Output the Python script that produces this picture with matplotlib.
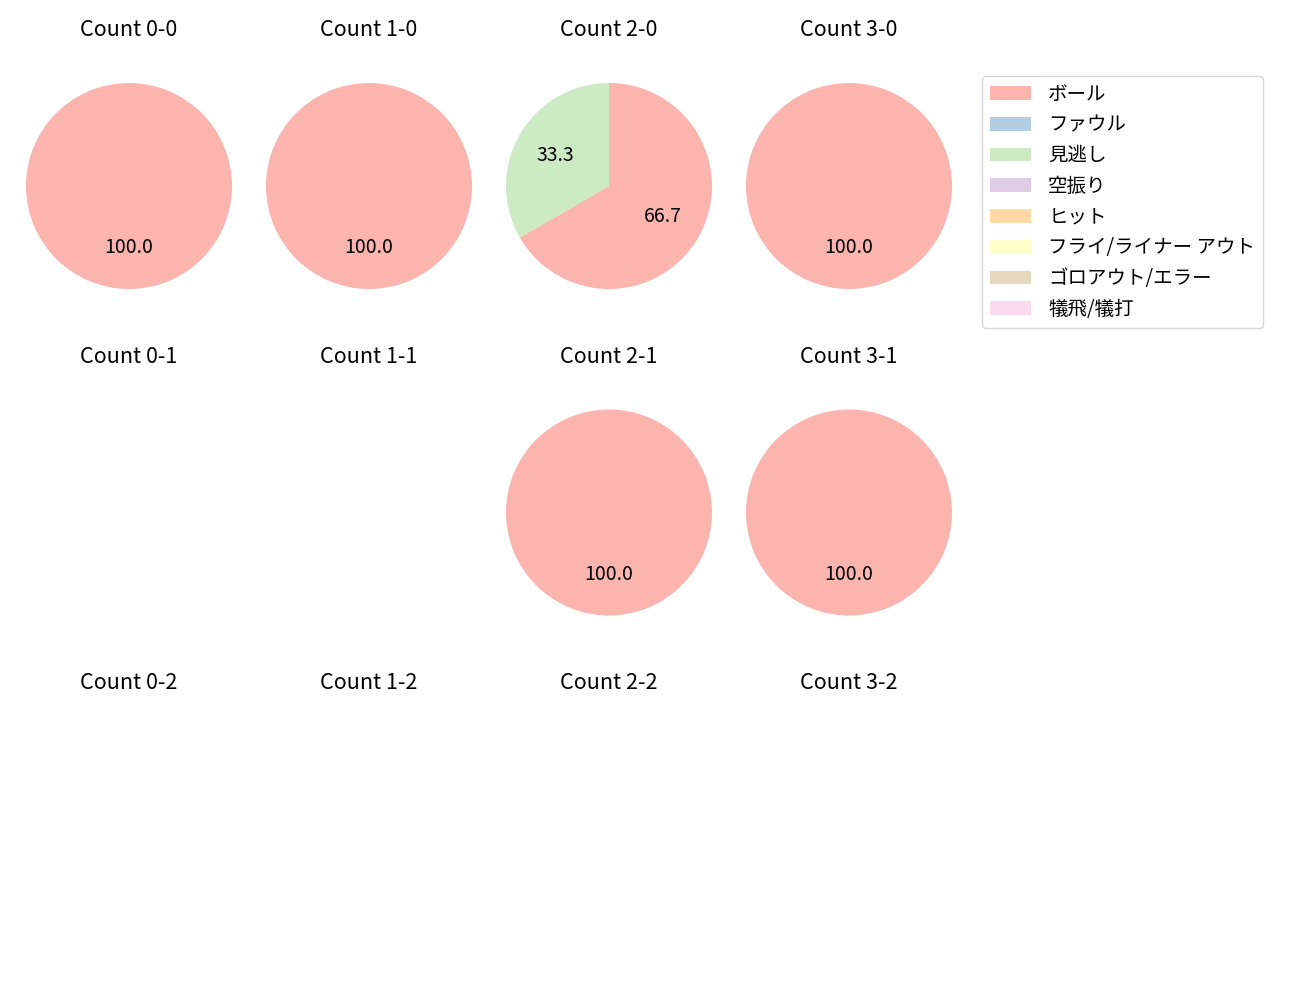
import matplotlib
matplotlib.use("Agg")
import matplotlib.pyplot as plt
from matplotlib.patches import Patch

plt.rcParams['font.family'] = ['Noto Sans CJK JP', 'DejaVu Sans']

# outcome categories and Pastel1 colours
categories = ["ボール", "ファウル", "見逃し", "空振り", "ヒット",
              "フライ/ライナー アウト", "ゴロアウト/エラー", "犠飛/犠打"]
colors = ["#fbb4ae", "#b3cde3", "#ccebc5", "#decbe4", "#fed9a6",
          "#ffffcc", "#e5d8bd", "#fddaec"]

balls = [0, 1, 2, 3]
strikes = [0, 1, 2]

# pitch outcome counts per ball-strike count (same order as categories)
counts = {
    (0, 0): [1, 0, 0, 0, 0, 0, 0, 0],
    (1, 0): [1, 0, 0, 0, 0, 0, 0, 0],
    (2, 0): [2, 0, 1, 0, 0, 0, 0, 0],
    (3, 0): [1, 0, 0, 0, 0, 0, 0, 0],
    (0, 1): [0, 0, 0, 0, 0, 0, 0, 0],
    (1, 1): [0, 0, 0, 0, 0, 0, 0, 0],
    (2, 1): [1, 0, 0, 0, 0, 0, 0, 0],
    (3, 1): [1, 0, 0, 0, 0, 0, 0, 0],
    (0, 2): [0, 0, 0, 0, 0, 0, 0, 0],
    (1, 2): [0, 0, 0, 0, 0, 0, 0, 0],
    (2, 2): [0, 0, 0, 0, 0, 0, 0, 0],
    (3, 2): [0, 0, 0, 0, 0, 0, 0, 0],
}

W, H = 1300, 1000
fig = plt.figure(figsize=(13, 10), dpi=100)

S = 257.5          # axes side in px
col_x = [129, 369, 609, 849]
row_y = [186, 512.5, 839]

for j, s in enumerate(strikes):
    for i, b in enumerate(balls):
        cx, cy = col_x[i], row_y[j]
        ax = fig.add_axes([(cx - S / 2) / W, 1 - (cy + S / 2) / H, S / W, S / H])
        vals = counts[(b, s)]
        ax.set_title(f"Count {b}-{s}", fontsize=15.5, pad=15)
        if sum(vals) > 0:
            v = [x for x in vals if x > 0]
            c = [colors[k] for k, x in enumerate(vals) if x > 0]
            ax.pie(v, colors=c, autopct="%.1f", startangle=90, counterclock=False,
                   textprops={"fontsize": 14})
        ax.set_xlim(-1.25, 1.25)
        ax.set_ylim(-1.25, 1.25)
        ax.set_aspect("equal")
        ax.axis("off")

handles = [Patch(facecolor=c, label=l) for c, l in zip(colors, categories)]
fig.legend(handles=handles, loc="upper left",
           bbox_to_anchor=(982 / W, 1 - 76 / H), borderaxespad=0,
           fontsize=14, handlelength=2.1, handletextpad=0.9)

fig.savefig("out.png", dpi=100)
